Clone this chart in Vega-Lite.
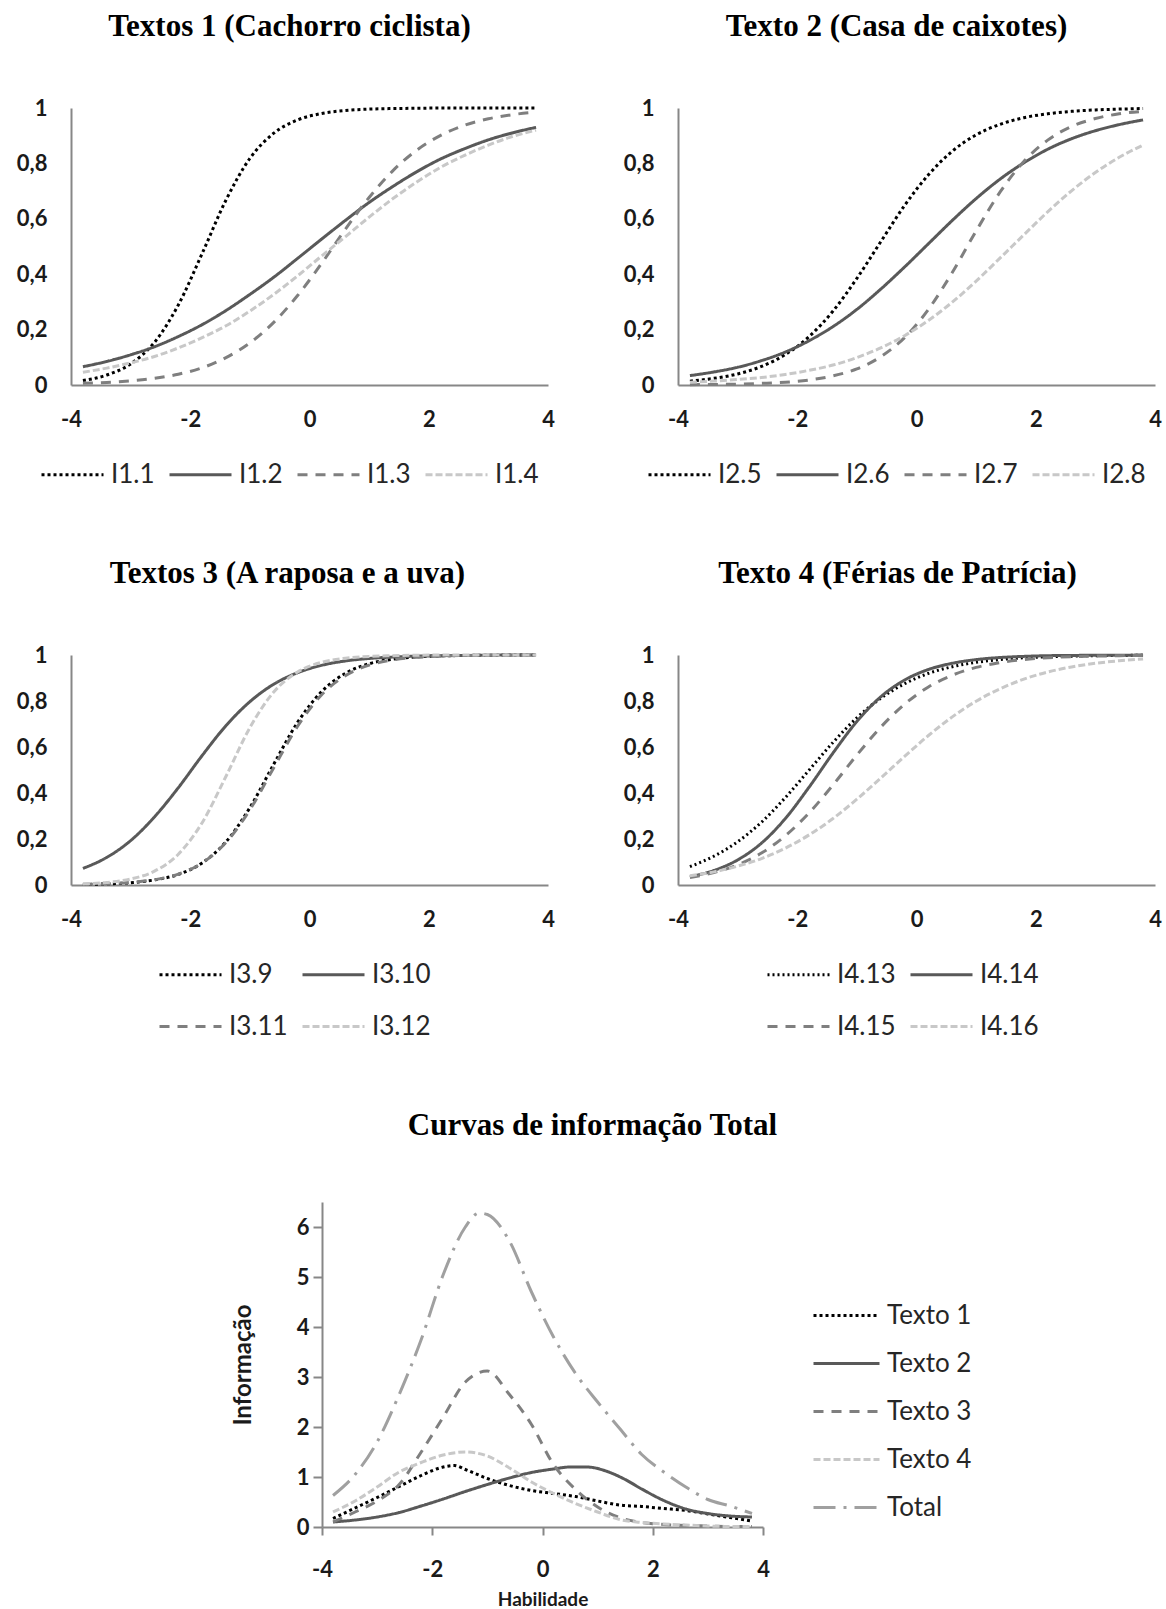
{
"$schema": "https://vega.github.io/schema/vega-lite/v6.json",
"background": "white",
"padding": {"left": 16, "top": 11, "right": 0, "bottom": 0},
"config": {
  "view": {"stroke": null},
  "font": "Lato",
  "title": {"font": "Liberation Serif", "fontSize": 31, "fontWeight": "bold", "color": "#000000", "offset": 54, "anchor": "middle"},
  "axis": {"domainColor": "#878787", "domainWidth": 2, "grid": false, "ticks": false, "tickSize": 0, "labelFont": "Lato", "labelFontSize": 22, "labelFontWeight": "bold", "labelColor": "#1a1a1a", "labelPadding": 24, "labelOverlap": false, "labelFlush": false, "titleFont": "Lato", "titleFontSize": 22, "titleFontWeight": "bold", "titleColor": "#1a1a1a"},
  "axisX": {"labelPadding": 24},
  "legend": {"symbolType": "stroke", "symbolSize": 3844, "symbolStrokeWidth": 3, "labelFont": "Lato", "labelFontSize": 26, "labelColor": "#262626", "labelOffset": 6, "columnPadding": 8, "rowPadding": 6, "orient": "none"},
  "line": {"strokeWidth": 3, "interpolate": "monotone"}
},
"datasets": {
"icc": [
{"p":1,"s":"I1.1","x":-3.8,"y":0.016},{"p":1,"s":"I1.1","x":-3.4,"y":0.036},{"p":1,"s":"I1.1","x":-3,"y":0.076},{"p":1,"s":"I1.1","x":-2.6,"y":0.154},{"p":1,"s":"I1.1","x":-2.2,"y":0.289},{"p":1,"s":"I1.1","x":-1.8,"y":0.475},{"p":1,"s":"I1.1","x":-1.4,"y":0.668},{"p":1,"s":"I1.1","x":-1,"y":0.818},{"p":1,"s":"I1.1","x":-0.6,"y":0.909},{"p":1,"s":"I1.1","x":-0.2,"y":0.957},{"p":1,"s":"I1.1","x":0.2,"y":0.98},{"p":1,"s":"I1.1","x":0.6,"y":0.991},{"p":1,"s":"I1.1","x":1,"y":0.996},{"p":1,"s":"I1.1","x":1.4,"y":0.998},{"p":1,"s":"I1.1","x":1.8,"y":0.999},{"p":1,"s":"I1.1","x":2.2,"y":1},{"p":1,"s":"I1.1","x":2.6,"y":1},{"p":1,"s":"I1.1","x":3,"y":1},{"p":1,"s":"I1.1","x":3.4,"y":1},{"p":1,"s":"I1.1","x":3.8,"y":1},
{"p":1,"s":"I1.2","x":-3.8,"y":0.066},{"p":1,"s":"I1.2","x":-3.4,"y":0.085},{"p":1,"s":"I1.2","x":-3,"y":0.109},{"p":1,"s":"I1.2","x":-2.6,"y":0.138},{"p":1,"s":"I1.2","x":-2.2,"y":0.175},{"p":1,"s":"I1.2","x":-1.8,"y":0.218},{"p":1,"s":"I1.2","x":-1.4,"y":0.269},{"p":1,"s":"I1.2","x":-1,"y":0.327},{"p":1,"s":"I1.2","x":-0.6,"y":0.389},{"p":1,"s":"I1.2","x":-0.2,"y":0.457},{"p":1,"s":"I1.2","x":0.2,"y":0.526},{"p":1,"s":"I1.2","x":0.6,"y":0.594},{"p":1,"s":"I1.2","x":1,"y":0.659},{"p":1,"s":"I1.2","x":1.4,"y":0.717},{"p":1,"s":"I1.2","x":1.8,"y":0.77},{"p":1,"s":"I1.2","x":2.2,"y":0.816},{"p":1,"s":"I1.2","x":2.6,"y":0.853},{"p":1,"s":"I1.2","x":3,"y":0.885},{"p":1,"s":"I1.2","x":3.4,"y":0.91},{"p":1,"s":"I1.2","x":3.8,"y":0.93},
{"p":1,"s":"I1.3","x":-3.8,"y":0.006},{"p":1,"s":"I1.3","x":-3.4,"y":0.009},{"p":1,"s":"I1.3","x":-3,"y":0.015},{"p":1,"s":"I1.3","x":-2.6,"y":0.024},{"p":1,"s":"I1.3","x":-2.2,"y":0.039},{"p":1,"s":"I1.3","x":-1.8,"y":0.062},{"p":1,"s":"I1.3","x":-1.4,"y":0.099},{"p":1,"s":"I1.3","x":-1,"y":0.152},{"p":1,"s":"I1.3","x":-0.6,"y":0.226},{"p":1,"s":"I1.3","x":-0.2,"y":0.323},{"p":1,"s":"I1.3","x":0.2,"y":0.438},{"p":1,"s":"I1.3","x":0.6,"y":0.562},{"p":1,"s":"I1.3","x":1,"y":0.677},{"p":1,"s":"I1.3","x":1.4,"y":0.774},{"p":1,"s":"I1.3","x":1.8,"y":0.848},{"p":1,"s":"I1.3","x":2.2,"y":0.901},{"p":1,"s":"I1.3","x":2.6,"y":0.938},{"p":1,"s":"I1.3","x":3,"y":0.961},{"p":1,"s":"I1.3","x":3.4,"y":0.976},{"p":1,"s":"I1.3","x":3.8,"y":0.985},
{"p":1,"s":"I1.4","x":-3.8,"y":0.046},{"p":1,"s":"I1.4","x":-3.4,"y":0.061},{"p":1,"s":"I1.4","x":-3,"y":0.08},{"p":1,"s":"I1.4","x":-2.6,"y":0.103},{"p":1,"s":"I1.4","x":-2.2,"y":0.134},{"p":1,"s":"I1.4","x":-1.8,"y":0.171},{"p":1,"s":"I1.4","x":-1.4,"y":0.214},{"p":1,"s":"I1.4","x":-1,"y":0.267},{"p":1,"s":"I1.4","x":-0.6,"y":0.327},{"p":1,"s":"I1.4","x":-0.2,"y":0.394},{"p":1,"s":"I1.4","x":0.2,"y":0.465},{"p":1,"s":"I1.4","x":0.6,"y":0.535},{"p":1,"s":"I1.4","x":1,"y":0.606},{"p":1,"s":"I1.4","x":1.4,"y":0.673},{"p":1,"s":"I1.4","x":1.8,"y":0.733},{"p":1,"s":"I1.4","x":2.2,"y":0.786},{"p":1,"s":"I1.4","x":2.6,"y":0.829},{"p":1,"s":"I1.4","x":3,"y":0.866},{"p":1,"s":"I1.4","x":3.4,"y":0.897},{"p":1,"s":"I1.4","x":3.8,"y":0.92},
{"p":2,"s":"I2.5","x":-3.8,"y":0.014},{"p":2,"s":"I2.5","x":-3.4,"y":0.024},{"p":2,"s":"I2.5","x":-3,"y":0.04},{"p":2,"s":"I2.5","x":-2.6,"y":0.067},{"p":2,"s":"I2.5","x":-2.2,"y":0.11},{"p":2,"s":"I2.5","x":-1.8,"y":0.175},{"p":2,"s":"I2.5","x":-1.4,"y":0.267},{"p":2,"s":"I2.5","x":-1,"y":0.385},{"p":2,"s":"I2.5","x":-0.6,"y":0.517},{"p":2,"s":"I2.5","x":-0.2,"y":0.648},{"p":2,"s":"I2.5","x":0.2,"y":0.759},{"p":2,"s":"I2.5","x":0.6,"y":0.844},{"p":2,"s":"I2.5","x":1,"y":0.903},{"p":2,"s":"I2.5","x":1.4,"y":0.941},{"p":2,"s":"I2.5","x":1.8,"y":0.965},{"p":2,"s":"I2.5","x":2.2,"y":0.979},{"p":2,"s":"I2.5","x":2.6,"y":0.988},{"p":2,"s":"I2.5","x":3,"y":0.993},{"p":2,"s":"I2.5","x":3.4,"y":0.996},{"p":2,"s":"I2.5","x":3.8,"y":0.998},
{"p":2,"s":"I2.6","x":-3.8,"y":0.034},{"p":2,"s":"I2.6","x":-3.4,"y":0.047},{"p":2,"s":"I2.6","x":-3,"y":0.064},{"p":2,"s":"I2.6","x":-2.6,"y":0.088},{"p":2,"s":"I2.6","x":-2.2,"y":0.119},{"p":2,"s":"I2.6","x":-1.8,"y":0.16},{"p":2,"s":"I2.6","x":-1.4,"y":0.211},{"p":2,"s":"I2.6","x":-1,"y":0.273},{"p":2,"s":"I2.6","x":-0.6,"y":0.346},{"p":2,"s":"I2.6","x":-0.2,"y":0.426},{"p":2,"s":"I2.6","x":0.2,"y":0.51},{"p":2,"s":"I2.6","x":0.6,"y":0.594},{"p":2,"s":"I2.6","x":1,"y":0.673},{"p":2,"s":"I2.6","x":1.4,"y":0.743},{"p":2,"s":"I2.6","x":1.8,"y":0.802},{"p":2,"s":"I2.6","x":2.2,"y":0.851},{"p":2,"s":"I2.6","x":2.6,"y":0.889},{"p":2,"s":"I2.6","x":3,"y":0.918},{"p":2,"s":"I2.6","x":3.4,"y":0.94},{"p":2,"s":"I2.6","x":3.8,"y":0.957},
{"p":2,"s":"I2.7","x":-3.8,"y":0.001},{"p":2,"s":"I2.7","x":-3.4,"y":0.002},{"p":2,"s":"I2.7","x":-3,"y":0.003},{"p":2,"s":"I2.7","x":-2.6,"y":0.006},{"p":2,"s":"I2.7","x":-2.2,"y":0.01},{"p":2,"s":"I2.7","x":-1.8,"y":0.018},{"p":2,"s":"I2.7","x":-1.4,"y":0.033},{"p":2,"s":"I2.7","x":-1,"y":0.058},{"p":2,"s":"I2.7","x":-0.6,"y":0.102},{"p":2,"s":"I2.7","x":-0.2,"y":0.171},{"p":2,"s":"I2.7","x":0.2,"y":0.273},{"p":2,"s":"I2.7","x":0.6,"y":0.406},{"p":2,"s":"I2.7","x":1,"y":0.556},{"p":2,"s":"I2.7","x":1.4,"y":0.696},{"p":2,"s":"I2.7","x":1.8,"y":0.807},{"p":2,"s":"I2.7","x":2.2,"y":0.884},{"p":2,"s":"I2.7","x":2.6,"y":0.933},{"p":2,"s":"I2.7","x":3,"y":0.962},{"p":2,"s":"I2.7","x":3.4,"y":0.979},{"p":2,"s":"I2.7","x":3.8,"y":0.988},
{"p":2,"s":"I2.8","x":-3.8,"y":0.01},{"p":2,"s":"I2.8","x":-3.4,"y":0.014},{"p":2,"s":"I2.8","x":-3,"y":0.02},{"p":2,"s":"I2.8","x":-2.6,"y":0.027},{"p":2,"s":"I2.8","x":-2.2,"y":0.038},{"p":2,"s":"I2.8","x":-1.8,"y":0.053},{"p":2,"s":"I2.8","x":-1.4,"y":0.072},{"p":2,"s":"I2.8","x":-1,"y":0.099},{"p":2,"s":"I2.8","x":-0.6,"y":0.134},{"p":2,"s":"I2.8","x":-0.2,"y":0.178},{"p":2,"s":"I2.8","x":0.2,"y":0.233},{"p":2,"s":"I2.8","x":0.6,"y":0.299},{"p":2,"s":"I2.8","x":1,"y":0.375},{"p":2,"s":"I2.8","x":1.4,"y":0.458},{"p":2,"s":"I2.8","x":1.8,"y":0.542},{"p":2,"s":"I2.8","x":2.2,"y":0.625},{"p":2,"s":"I2.8","x":2.6,"y":0.701},{"p":2,"s":"I2.8","x":3,"y":0.767},{"p":2,"s":"I2.8","x":3.4,"y":0.822},{"p":2,"s":"I2.8","x":3.8,"y":0.866},
{"p":3,"s":"I3.9","x":-3.8,"y":0.002},{"p":3,"s":"I3.9","x":-3.4,"y":0.005},{"p":3,"s":"I3.9","x":-3,"y":0.01},{"p":3,"s":"I3.9","x":-2.6,"y":0.022},{"p":3,"s":"I3.9","x":-2.2,"y":0.046},{"p":3,"s":"I3.9","x":-1.8,"y":0.096},{"p":3,"s":"I3.9","x":-1.4,"y":0.188},{"p":3,"s":"I3.9","x":-1,"y":0.336},{"p":3,"s":"I3.9","x":-0.6,"y":0.525},{"p":3,"s":"I3.9","x":-0.2,"y":0.707},{"p":3,"s":"I3.9","x":0.2,"y":0.84},{"p":3,"s":"I3.9","x":0.6,"y":0.92},{"p":3,"s":"I3.9","x":1,"y":0.962},{"p":3,"s":"I3.9","x":1.4,"y":0.982},{"p":3,"s":"I3.9","x":1.8,"y":0.992},{"p":3,"s":"I3.9","x":2.2,"y":0.996},{"p":3,"s":"I3.9","x":2.6,"y":0.998},{"p":3,"s":"I3.9","x":3,"y":0.999},{"p":3,"s":"I3.9","x":3.4,"y":1},{"p":3,"s":"I3.9","x":3.8,"y":1},
{"p":3,"s":"I3.10","x":-3.8,"y":0.072},{"p":3,"s":"I3.10","x":-3.4,"y":0.12},{"p":3,"s":"I3.10","x":-3,"y":0.193},{"p":3,"s":"I3.10","x":-2.6,"y":0.296},{"p":3,"s":"I3.10","x":-2.2,"y":0.423},{"p":3,"s":"I3.10","x":-1.8,"y":0.563},{"p":3,"s":"I3.10","x":-1.4,"y":0.693},{"p":3,"s":"I3.10","x":-1,"y":0.797},{"p":3,"s":"I3.10","x":-0.6,"y":0.873},{"p":3,"s":"I3.10","x":-0.2,"y":0.923},{"p":3,"s":"I3.10","x":0.2,"y":0.955},{"p":3,"s":"I3.10","x":0.6,"y":0.974},{"p":3,"s":"I3.10","x":1,"y":0.985},{"p":3,"s":"I3.10","x":1.4,"y":0.991},{"p":3,"s":"I3.10","x":1.8,"y":0.995},{"p":3,"s":"I3.10","x":2.2,"y":0.997},{"p":3,"s":"I3.10","x":2.6,"y":0.998},{"p":3,"s":"I3.10","x":3,"y":0.999},{"p":3,"s":"I3.10","x":3.4,"y":1},{"p":3,"s":"I3.10","x":3.8,"y":1},
{"p":3,"s":"I3.11","x":-3.8,"y":0.002},{"p":3,"s":"I3.11","x":-3.4,"y":0.005},{"p":3,"s":"I3.11","x":-3,"y":0.011},{"p":3,"s":"I3.11","x":-2.6,"y":0.023},{"p":3,"s":"I3.11","x":-2.2,"y":0.047},{"p":3,"s":"I3.11","x":-1.8,"y":0.096},{"p":3,"s":"I3.11","x":-1.4,"y":0.185},{"p":3,"s":"I3.11","x":-1,"y":0.327},{"p":3,"s":"I3.11","x":-0.6,"y":0.51},{"p":3,"s":"I3.11","x":-0.2,"y":0.69},{"p":3,"s":"I3.11","x":0.2,"y":0.826},{"p":3,"s":"I3.11","x":0.6,"y":0.91},{"p":3,"s":"I3.11","x":1,"y":0.956},{"p":3,"s":"I3.11","x":1.4,"y":0.979},{"p":3,"s":"I3.11","x":1.8,"y":0.99},{"p":3,"s":"I3.11","x":2.2,"y":0.995},{"p":3,"s":"I3.11","x":2.6,"y":0.998},{"p":3,"s":"I3.11","x":3,"y":0.999},{"p":3,"s":"I3.11","x":3.4,"y":0.999},{"p":3,"s":"I3.11","x":3.8,"y":1},
{"p":3,"s":"I3.12","x":-3.8,"y":0.005},{"p":3,"s":"I3.12","x":-3.4,"y":0.011},{"p":3,"s":"I3.12","x":-3,"y":0.026},{"p":3,"s":"I3.12","x":-2.6,"y":0.06},{"p":3,"s":"I3.12","x":-2.2,"y":0.134},{"p":3,"s":"I3.12","x":-1.8,"y":0.271},{"p":3,"s":"I3.12","x":-1.4,"y":0.473},{"p":3,"s":"I3.12","x":-1,"y":0.684},{"p":3,"s":"I3.12","x":-0.6,"y":0.839},{"p":3,"s":"I3.12","x":-0.2,"y":0.926},{"p":3,"s":"I3.12","x":0.2,"y":0.968},{"p":3,"s":"I3.12","x":0.6,"y":0.986},{"p":3,"s":"I3.12","x":1,"y":0.994},{"p":3,"s":"I3.12","x":1.4,"y":0.997},{"p":3,"s":"I3.12","x":1.8,"y":0.999},{"p":3,"s":"I3.12","x":2.2,"y":1},{"p":3,"s":"I3.12","x":2.6,"y":1},{"p":3,"s":"I3.12","x":3,"y":1},{"p":3,"s":"I3.12","x":3.4,"y":1},{"p":3,"s":"I3.12","x":3.8,"y":1},
{"p":4,"s":"I4.13","x":-3.8,"y":0.08},{"p":4,"s":"I4.13","x":-3.4,"y":0.125},{"p":4,"s":"I4.13","x":-3,"y":0.188},{"p":4,"s":"I4.13","x":-2.6,"y":0.273},{"p":4,"s":"I4.13","x":-2.2,"y":0.38},{"p":4,"s":"I4.13","x":-1.8,"y":0.5},{"p":4,"s":"I4.13","x":-1.4,"y":0.62},{"p":4,"s":"I4.13","x":-1,"y":0.727},{"p":4,"s":"I4.13","x":-0.6,"y":0.812},{"p":4,"s":"I4.13","x":-0.2,"y":0.875},{"p":4,"s":"I4.13","x":0.2,"y":0.92},{"p":4,"s":"I4.13","x":0.6,"y":0.949},{"p":4,"s":"I4.13","x":1,"y":0.968},{"p":4,"s":"I4.13","x":1.4,"y":0.98},{"p":4,"s":"I4.13","x":1.8,"y":0.988},{"p":4,"s":"I4.13","x":2.2,"y":0.992},{"p":4,"s":"I4.13","x":2.6,"y":0.995},{"p":4,"s":"I4.13","x":3,"y":0.997},{"p":4,"s":"I4.13","x":3.4,"y":0.998},{"p":4,"s":"I4.13","x":3.8,"y":0.999},
{"p":4,"s":"I4.14","x":-3.8,"y":0.036},{"p":4,"s":"I4.14","x":-3.4,"y":0.063},{"p":4,"s":"I4.14","x":-3,"y":0.109},{"p":4,"s":"I4.14","x":-2.6,"y":0.182},{"p":4,"s":"I4.14","x":-2.2,"y":0.289},{"p":4,"s":"I4.14","x":-1.8,"y":0.426},{"p":4,"s":"I4.14","x":-1.4,"y":0.574},{"p":4,"s":"I4.14","x":-1,"y":0.711},{"p":4,"s":"I4.14","x":-0.6,"y":0.818},{"p":4,"s":"I4.14","x":-0.2,"y":0.891},{"p":4,"s":"I4.14","x":0.2,"y":0.937},{"p":4,"s":"I4.14","x":0.6,"y":0.964},{"p":4,"s":"I4.14","x":1,"y":0.98},{"p":4,"s":"I4.14","x":1.4,"y":0.989},{"p":4,"s":"I4.14","x":1.8,"y":0.994},{"p":4,"s":"I4.14","x":2.2,"y":0.997},{"p":4,"s":"I4.14","x":2.6,"y":0.998},{"p":4,"s":"I4.14","x":3,"y":0.999},{"p":4,"s":"I4.14","x":3.4,"y":0.999},{"p":4,"s":"I4.14","x":3.8,"y":1},
{"p":4,"s":"I4.15","x":-3.8,"y":0.033},{"p":4,"s":"I4.15","x":-3.4,"y":0.054},{"p":4,"s":"I4.15","x":-3,"y":0.088},{"p":4,"s":"I4.15","x":-2.6,"y":0.139},{"p":4,"s":"I4.15","x":-2.2,"y":0.214},{"p":4,"s":"I4.15","x":-1.8,"y":0.314},{"p":4,"s":"I4.15","x":-1.4,"y":0.435},{"p":4,"s":"I4.15","x":-1,"y":0.565},{"p":4,"s":"I4.15","x":-0.6,"y":0.686},{"p":4,"s":"I4.15","x":-0.2,"y":0.786},{"p":4,"s":"I4.15","x":0.2,"y":0.861},{"p":4,"s":"I4.15","x":0.6,"y":0.912},{"p":4,"s":"I4.15","x":1,"y":0.946},{"p":4,"s":"I4.15","x":1.4,"y":0.967},{"p":4,"s":"I4.15","x":1.8,"y":0.98},{"p":4,"s":"I4.15","x":2.2,"y":0.988},{"p":4,"s":"I4.15","x":2.6,"y":0.993},{"p":4,"s":"I4.15","x":3,"y":0.995},{"p":4,"s":"I4.15","x":3.4,"y":0.997},{"p":4,"s":"I4.15","x":3.8,"y":0.998},
{"p":4,"s":"I4.16","x":-3.8,"y":0.04},{"p":4,"s":"I4.16","x":-3.4,"y":0.057},{"p":4,"s":"I4.16","x":-3,"y":0.082},{"p":4,"s":"I4.16","x":-2.6,"y":0.115},{"p":4,"s":"I4.16","x":-2.2,"y":0.16},{"p":4,"s":"I4.16","x":-1.8,"y":0.218},{"p":4,"s":"I4.16","x":-1.4,"y":0.289},{"p":4,"s":"I4.16","x":-1,"y":0.373},{"p":4,"s":"I4.16","x":-0.6,"y":0.465},{"p":4,"s":"I4.16","x":-0.2,"y":0.559},{"p":4,"s":"I4.16","x":0.2,"y":0.65},{"p":4,"s":"I4.16","x":0.6,"y":0.731},{"p":4,"s":"I4.16","x":1,"y":0.799},{"p":4,"s":"I4.16","x":1.4,"y":0.853},{"p":4,"s":"I4.16","x":1.8,"y":0.895},{"p":4,"s":"I4.16","x":2.2,"y":0.926},{"p":4,"s":"I4.16","x":2.6,"y":0.948},{"p":4,"s":"I4.16","x":3,"y":0.964},{"p":4,"s":"I4.16","x":3.4,"y":0.975},{"p":4,"s":"I4.16","x":3.8,"y":0.983}
],
"info": [
{"s":"Texto 1","x":-3.8,"y":0.17},{"s":"Texto 1","x":-3.4,"y":0.38},{"s":"Texto 1","x":-3,"y":0.59},{"s":"Texto 1","x":-2.6,"y":0.81},{"s":"Texto 1","x":-2.2,"y":1.03},{"s":"Texto 1","x":-1.8,"y":1.2},{"s":"Texto 1","x":-1.6,"y":1.23},{"s":"Texto 1","x":-1.4,"y":1.15},{"s":"Texto 1","x":-1,"y":0.97},{"s":"Texto 1","x":-0.6,"y":0.83},{"s":"Texto 1","x":-0.2,"y":0.73},{"s":"Texto 1","x":0.2,"y":0.67},{"s":"Texto 1","x":0.6,"y":0.61},{"s":"Texto 1","x":1,"y":0.52},{"s":"Texto 1","x":1.4,"y":0.44},{"s":"Texto 1","x":1.8,"y":0.41},{"s":"Texto 1","x":2.2,"y":0.37},{"s":"Texto 1","x":2.6,"y":0.33},{"s":"Texto 1","x":3,"y":0.26},{"s":"Texto 1","x":3.4,"y":0.19},{"s":"Texto 1","x":3.8,"y":0.12},
{"s":"Texto 2","x":-3.8,"y":0.1},{"s":"Texto 2","x":-3.4,"y":0.14},{"s":"Texto 2","x":-3,"y":0.2},{"s":"Texto 2","x":-2.6,"y":0.29},{"s":"Texto 2","x":-2.2,"y":0.42},{"s":"Texto 2","x":-1.8,"y":0.56},{"s":"Texto 2","x":-1.4,"y":0.71},{"s":"Texto 2","x":-1,"y":0.85},{"s":"Texto 2","x":-0.6,"y":0.98},{"s":"Texto 2","x":-0.2,"y":1.09},{"s":"Texto 2","x":0.2,"y":1.16},{"s":"Texto 2","x":0.5,"y":1.2},{"s":"Texto 2","x":0.8,"y":1.2},{"s":"Texto 2","x":1.2,"y":1.1},{"s":"Texto 2","x":1.5,"y":0.95},{"s":"Texto 2","x":1.8,"y":0.76},{"s":"Texto 2","x":2.2,"y":0.53},{"s":"Texto 2","x":2.6,"y":0.36},{"s":"Texto 2","x":3,"y":0.27},{"s":"Texto 2","x":3.4,"y":0.22},{"s":"Texto 2","x":3.8,"y":0.2},
{"s":"Texto 3","x":-3.8,"y":0.1},{"s":"Texto 3","x":-3.4,"y":0.3},{"s":"Texto 3","x":-3,"y":0.52},{"s":"Texto 3","x":-2.6,"y":0.85},{"s":"Texto 3","x":-2.2,"y":1.5},{"s":"Texto 3","x":-1.8,"y":2.2},{"s":"Texto 3","x":-1.4,"y":2.9},{"s":"Texto 3","x":-1,"y":3.12},{"s":"Texto 3","x":-0.6,"y":2.65},{"s":"Texto 3","x":-0.2,"y":2.05},{"s":"Texto 3","x":0.2,"y":1.25},{"s":"Texto 3","x":0.6,"y":0.75},{"s":"Texto 3","x":1,"y":0.4},{"s":"Texto 3","x":1.4,"y":0.19},{"s":"Texto 3","x":1.8,"y":0.09},{"s":"Texto 3","x":2.2,"y":0.05},{"s":"Texto 3","x":2.6,"y":0.03},{"s":"Texto 3","x":3,"y":0.02},{"s":"Texto 3","x":3.4,"y":0.01},{"s":"Texto 3","x":3.8,"y":0.01},
{"s":"Texto 4","x":-3.8,"y":0.3},{"s":"Texto 4","x":-3.4,"y":0.52},{"s":"Texto 4","x":-3,"y":0.8},{"s":"Texto 4","x":-2.6,"y":1.1},{"s":"Texto 4","x":-2.2,"y":1.29},{"s":"Texto 4","x":-1.8,"y":1.44},{"s":"Texto 4","x":-1.4,"y":1.5},{"s":"Texto 4","x":-1,"y":1.42},{"s":"Texto 4","x":-0.6,"y":1.18},{"s":"Texto 4","x":-0.2,"y":0.9},{"s":"Texto 4","x":0.2,"y":0.67},{"s":"Texto 4","x":0.6,"y":0.47},{"s":"Texto 4","x":1,"y":0.3},{"s":"Texto 4","x":1.4,"y":0.15},{"s":"Texto 4","x":1.8,"y":0.09},{"s":"Texto 4","x":2.2,"y":0.06},{"s":"Texto 4","x":2.6,"y":0.04},{"s":"Texto 4","x":3,"y":0.02},{"s":"Texto 4","x":3.4,"y":0.01},{"s":"Texto 4","x":3.8,"y":0.01},
{"s":"Total","x":-3.8,"y":0.63},{"s":"Total","x":-3.4,"y":1.05},{"s":"Total","x":-3,"y":1.7},{"s":"Total","x":-2.6,"y":2.65},{"s":"Total","x":-2.2,"y":3.75},{"s":"Total","x":-1.8,"y":5.05},{"s":"Total","x":-1.4,"y":6.0},{"s":"Total","x":-1.15,"y":6.28},{"s":"Total","x":-1,"y":6.25},{"s":"Total","x":-0.6,"y":5.72},{"s":"Total","x":-0.2,"y":4.7},{"s":"Total","x":0.2,"y":3.8},{"s":"Total","x":0.6,"y":3.07},{"s":"Total","x":1,"y":2.5},{"s":"Total","x":1.4,"y":1.97},{"s":"Total","x":1.8,"y":1.45},{"s":"Total","x":2.2,"y":1.1},{"s":"Total","x":2.6,"y":0.8},{"s":"Total","x":3,"y":0.55},{"s":"Total","x":3.4,"y":0.42},{"s":"Total","x":3.8,"y":0.27}
]
},
"vconcat": [
{
 "hconcat": [
  {"width": 477, "height": 277, "title": {"text": "Textos 1 (Cachorro ciclista)", "dx": -20}, "data": {"name": "icc"}, "transform": [{"filter": "datum.p == 1"}], "mark": {"type": "line"},
   "encoding": {
    "x": {"field": "x", "type": "quantitative", "scale": {"domain": [-4, 4], "nice": false}, "axis": {"values": [-4, -2, 0, 2, 4], "title": null, "labelExpr": "'' + datum.value"}},
    "y": {"field": "y", "type": "quantitative", "scale": {"domain": [0, 1], "nice": false}, "axis": {"values": [0, 0.2, 0.4, 0.6, 0.8, 1], "title": null, "labelExpr": "replace('' + datum.value, '.', ',')"}},
    "color": {"field": "s", "type": "nominal", "scale": {"domain": ["I1.1", "I1.2", "I1.3", "I1.4"], "range": ["#000000", "#595959", "#7f7f7f", "#c8c8c8"]}, "legend": {"title": null, "direction": "horizontal", "orient": "none", "legendX": -31, "legendY": 334}},
    "strokeDash": {"field": "s", "type": "nominal", "scale": {"domain": ["I1.1", "I1.2", "I1.3", "I1.4"], "range": [[3, 3], [1, 0], [10, 8], [7, 3]]}, "legend": {"title": null, "direction": "horizontal", "orient": "none", "legendX": -31, "legendY": 334}}
   }},
  {"width": 477, "height": 277, "title": {"text": "Texto 2 (Casa de caixotes)", "dx": -20}, "data": {"name": "icc"}, "transform": [{"filter": "datum.p == 2"}], "mark": {"type": "line"},
   "encoding": {
    "x": {"field": "x", "type": "quantitative", "scale": {"domain": [-4, 4], "nice": false}, "axis": {"values": [-4, -2, 0, 2, 4], "title": null, "labelExpr": "'' + datum.value"}},
    "y": {"field": "y", "type": "quantitative", "scale": {"domain": [0, 1], "nice": false}, "axis": {"values": [0, 0.2, 0.4, 0.6, 0.8, 1], "title": null, "labelExpr": "replace('' + datum.value, '.', ',')"}},
    "color": {"field": "s", "type": "nominal", "scale": {"domain": ["I2.5", "I2.6", "I2.7", "I2.8"], "range": ["#000000", "#595959", "#7f7f7f", "#c8c8c8"]}, "legend": {"title": null, "direction": "horizontal", "orient": "none", "legendX": -31, "legendY": 334}},
    "strokeDash": {"field": "s", "type": "nominal", "scale": {"domain": ["I2.5", "I2.6", "I2.7", "I2.8"], "range": [[3, 3], [1, 0], [10, 8], [7, 3]]}, "legend": {"title": null, "direction": "horizontal", "orient": "none", "legendX": -31, "legendY": 334}}
   }}
 ],
 "spacing": 68,
 "resolve": {"scale": {"color": "independent", "strokeDash": "independent"}, "legend": {"color": "independent", "strokeDash": "independent"}}
},
{
 "hconcat": [
  {"width": 477, "height": 230, "title": {"text": "Textos 3 (A raposa e a uva)", "dx": -22}, "data": {"name": "icc"}, "transform": [{"filter": "datum.p == 3"}], "mark": {"type": "line"},
   "encoding": {
    "x": {"field": "x", "type": "quantitative", "scale": {"domain": [-4, 4], "nice": false}, "axis": {"values": [-4, -2, 0, 2, 4], "title": null, "labelExpr": "'' + datum.value"}},
    "y": {"field": "y", "type": "quantitative", "scale": {"domain": [0, 1], "nice": false}, "axis": {"values": [0, 0.2, 0.4, 0.6, 0.8, 1], "title": null, "labelExpr": "replace('' + datum.value, '.', ',')"}},
    "color": {"field": "s", "type": "nominal", "scale": {"domain": ["I3.9", "I3.10", "I3.11", "I3.12"], "range": ["#000000", "#595959", "#7f7f7f", "#c8c8c8"]}, "legend": {"title": null, "direction": "horizontal", "columns": 2, "orient": "none", "legendX": 87, "legendY": 287}},
    "strokeDash": {"field": "s", "type": "nominal", "scale": {"domain": ["I3.9", "I3.10", "I3.11", "I3.12"], "range": [[3, 3], [1, 0], [10, 8], [7, 3]]}, "legend": {"title": null, "direction": "horizontal", "columns": 2, "orient": "none", "legendX": 87, "legendY": 287}}
   }},
  {"width": 477, "height": 230, "title": {"text": "Texto 4 (Férias de Patrícia)", "dx": -19}, "data": {"name": "icc"}, "transform": [{"filter": "datum.p == 4"}], "mark": {"type": "line"},
   "encoding": {
    "x": {"field": "x", "type": "quantitative", "scale": {"domain": [-4, 4], "nice": false}, "axis": {"values": [-4, -2, 0, 2, 4], "title": null, "labelExpr": "'' + datum.value"}},
    "y": {"field": "y", "type": "quantitative", "scale": {"domain": [0, 1], "nice": false}, "axis": {"values": [0, 0.2, 0.4, 0.6, 0.8, 1], "title": null, "labelExpr": "replace('' + datum.value, '.', ',')"}},
    "color": {"field": "s", "type": "nominal", "scale": {"domain": ["I4.13", "I4.14", "I4.15", "I4.16"], "range": ["#000000", "#595959", "#7f7f7f", "#c8c8c8"]}, "legend": {"title": null, "direction": "horizontal", "columns": 2, "orient": "none", "legendX": 88, "legendY": 287}},
    "strokeDash": {"field": "s", "type": "nominal", "scale": {"domain": ["I4.13", "I4.14", "I4.15", "I4.16"], "range": [[2, 3], [1, 0], [10, 8], [7, 3]]}, "legend": {"title": null, "direction": "horizontal", "columns": 2, "orient": "none", "legendX": 88, "legendY": 287}}
   }}
 ],
 "spacing": 68,
 "resolve": {"scale": {"color": "independent", "strokeDash": "independent"}, "legend": {"color": "independent", "strokeDash": "independent"}}
},
{
 "hconcat": [
  {"width": 160, "height": 10, "view": {"fill": "#ffffff", "stroke": null}, "data": {"values": []}, "mark": {"type": "point"}, "encoding": {}},
  {"width": 441, "height": 325, "title": {"text": "Curvas de informação Total", "dx": 50, "offset": 60}, "data": {"name": "info"}, "mark": {"type": "line"},
   "encoding": {
    "x": {"field": "x", "type": "quantitative", "scale": {"domain": [-4, 4], "nice": false}, "axis": {"values": [-4, -2, 0, 2, 4], "title": "Habilidade", "titleFontSize": 19, "labelExpr": "'' + datum.value", "ticks": true, "tickSize": 8, "tickColor": "#878787", "tickWidth": 2, "labelPadding": 24, "titlePadding": 10}},
    "y": {"field": "y", "type": "quantitative", "scale": {"domain": [0, 6.5], "nice": false}, "axis": {"values": [0, 1, 2, 3, 4, 5, 6], "title": "Informação", "titleFontSize": 24, "ticks": true, "tickSize": 9, "tickColor": "#878787", "tickWidth": 2, "labelPadding": 4, "titlePadding": 41}},
    "color": {"field": "s", "type": "nominal", "scale": {"domain": ["Texto 1", "Texto 2", "Texto 3", "Texto 4", "Total"], "range": ["#000000", "#595959", "#7f7f7f", "#c8c8c8", "#a0a0a0"]}, "legend": {"title": null, "direction": "vertical", "orient": "none", "legendX": 490, "legendY": 79, "rowPadding": 0, "symbolSize": 4356}},
    "strokeDash": {"field": "s", "type": "nominal", "scale": {"domain": ["Texto 1", "Texto 2", "Texto 3", "Texto 4", "Total"], "range": [[3, 3], [1, 0], [10, 8], [7, 3], [22, 8, 3, 8]]}, "legend": {"title": null, "direction": "vertical", "orient": "none", "legendX": 490, "legendY": 79, "rowPadding": 0, "symbolSize": 4356}}
   }}
 ],
 "spacing": 0,
 "resolve": {"scale": {"color": "independent", "strokeDash": "independent"}, "legend": {"color": "independent", "strokeDash": "independent"}}
}
],
"spacing": 70,
"resolve": {"scale": {"color": "independent", "strokeDash": "independent"}, "legend": {"color": "independent", "strokeDash": "independent"}}
}
